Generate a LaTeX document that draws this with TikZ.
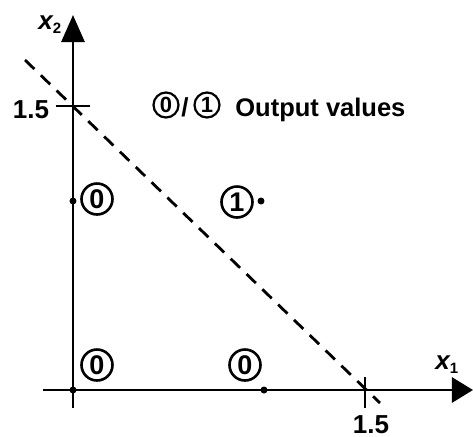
\documentclass[tikz,border=0pt]{standalone}
\usepackage{fontspec}
\setmainfont{Liberation Sans}
\usetikzlibrary{arrows.meta}
\begin{document}
\begin{tikzpicture}[x=0.5pt,y=-0.5pt,
  axis/.style={line width=1.4pt},
  sep/.style={line width=1.4pt, dash pattern=on 6.5pt off 4.5pt},
  outval/.style={circle, draw, line width=1.3pt, minimum size=15.5pt, inner sep=0pt, font=\fontsize{13.5}{13.5}\selectfont\bfseries},
  legval/.style={circle, draw, line width=1.1pt, minimum size=12.5pt, inner sep=0pt, font=\fontsize{11}{11}\selectfont\bfseries},
  dot/.style={circle, fill, inner sep=0pt, minimum size=3.5pt},
  lbl/.style={font=\fontsize{13}{13}\selectfont\bfseries, inner sep=0pt},
  axlbl/.style={font=\fontsize{13}{13}\selectfont\bfseries\itshape, inner sep=0pt}]
\useasboundingbox (0,0) rectangle (473,436);
% axes
\coordinate (xl) at (43,390);
\coordinate (xr) at (473,390);
\coordinate (yb) at (73,408);
\coordinate (yt) at (73,15);
\draw[axis, -{Triangle[length=10.5pt,width=12.5pt]}] (xl) -- (xr);
\draw[axis, -{Triangle[length=13.5pt,width=11.5pt]}] (yb) -- (yt);
% ticks
\coordinate (tx1) at (365,377);
\coordinate (tx2) at (365,408);
\coordinate (ty1) at (56,106);
\coordinate (ty2) at (90,106);
\draw[axis] (tx1) -- (tx2);
\draw[axis] (ty1) -- (ty2);
% separating line
\coordinate (s1) at (25,60);
\coordinate (s2) at (380,403);
\draw[sep] (s1) -- (s2);
% labels
\node[lbl, anchor=base] (ly) at (31,118) {1.5};
\node[lbl, anchor=base] (lx) at (371,433) {1.5};
\node[axlbl, anchor=base west] (x2) at (38,29) {x\raisebox{-0.35ex}{\fontsize{7.5}{7.5}\selectfont\upshape 2}};
\node[axlbl, anchor=base west] (x1) at (435,369) {x\raisebox{-0.35ex}{\fontsize{7.5}{7.5}\selectfont\upshape 1}};
% points
\node[dot] (p01) at (73,201) {};
\node[dot] (p11) at (261,201) {};
\node[dot] (p10) at (264,390) {};
\node[dot] (p00) at (73,390) {};
\node[outval] (v01) at (97,199) {0};
\node[outval] (v11) at (237,202) {1};
\node[outval] (v00) at (97,365) {0};
\node[outval] (v10) at (245,365) {0};
% legend
\node[legval] (l0) at (166,105) {0};
\node[lbl] (lsl) at (185,107) {/};
\node[legval] (l1) at (207,105) {1};
\node[font=\fontsize{12.75}{12.75}\selectfont\bfseries, inner sep=0pt, anchor=base west] (ltxt) at (235,116) {Output values};
\end{tikzpicture}
\end{document}
